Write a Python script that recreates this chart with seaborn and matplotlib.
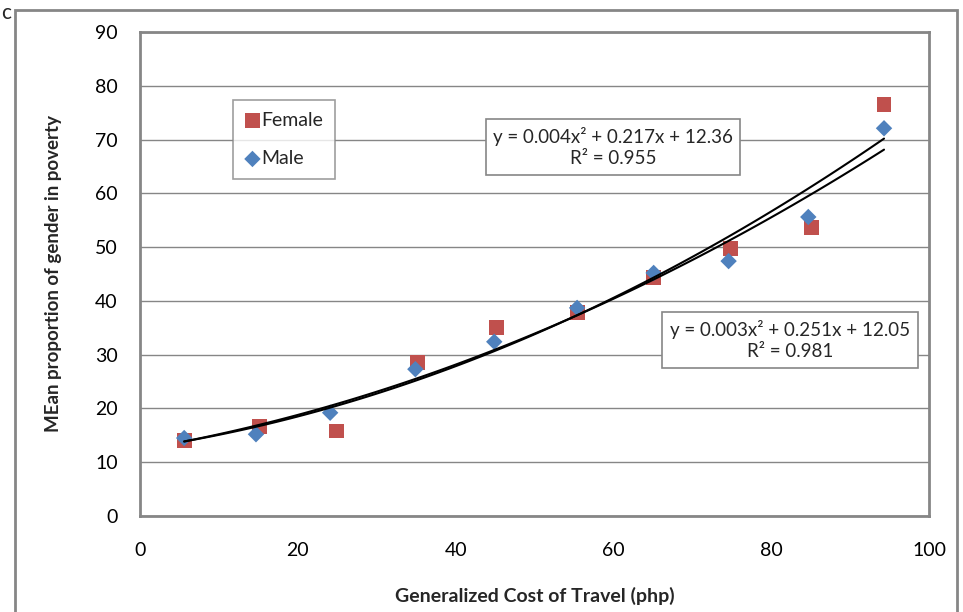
import numpy as np
import pandas as pd
import matplotlib
matplotlib.use("Agg")
import matplotlib.pyplot as plt
from matplotlib.patches import Rectangle
import seaborn as sns

# ---- data ----
female_x = [5.6, 15.2, 24.9, 35.2, 45.2, 55.4, 65.1, 74.8, 85.1, 94.3]
female_y = [14.1, 16.7, 15.8, 28.6, 35.1, 37.9, 44.3, 49.8, 53.6, 76.6]
male_x = [5.6, 14.7, 24.1, 34.9, 44.9, 55.4, 65.1, 74.6, 84.7, 94.3]
male_y = [14.5, 15.2, 19.2, 27.3, 32.4, 38.7, 45.2, 47.4, 55.6, 72.1]
eq_female = "y = 0.004x\u00b2 + 0.217x + 12.36\nR\u00b2 = 0.955"
eq_male = "y = 0.003x\u00b2 + 0.251x + 12.05\nR\u00b2 = 0.981"
x_ticks = [0, 20, 40, 60, 80, 100]
y_ticks = [0, 10, 20, 30, 40, 50, 60, 70, 80, 90]

FEMALE_C = "#C0504D"
MALE_C = "#4F81BD"
GRID_C = "#868686"

sns.set_theme(style="white")
plt.rcParams["font.family"] = ["Lato", "DejaVu Sans"]

fig = plt.figure(figsize=(9.63, 6.12), dpi=100)
W, H = 963, 612
left, right, top, bottom = 140, 929, 32, 516
ax = fig.add_axes([left / W, 1 - bottom / H, (right - left) / W, (bottom - top) / H])

fdf = pd.DataFrame({"x": female_x, "y": female_y})
mdf = pd.DataFrame({"x": male_x, "y": male_y})

sns.scatterplot(data=fdf, x="x", y="y", ax=ax, marker="s", s=115, color=FEMALE_C,
                edgecolor="none", label="Female", zorder=3)
sns.scatterplot(data=mdf, x="x", y="y", ax=ax, marker="D", s=70, color=MALE_C,
                edgecolor="none", label="Male", zorder=4)

sns.regplot(data=fdf, x="x", y="y", ax=ax, order=2, ci=None, scatter=False,
            line_kws=dict(color="black", lw=1.5, zorder=5))
sns.regplot(data=mdf, x="x", y="y", ax=ax, order=2, ci=None, scatter=False,
            line_kws=dict(color="black", lw=1.5, zorder=5))

ax.set_xlim(0, 100)
ax.set_ylim(0, 90)
ax.set_xticks(x_ticks)
ax.set_yticks(y_ticks)
ax.tick_params(axis="both", length=0, labelsize=14, colors="black")
ax.tick_params(axis="x", pad=19)
ax.tick_params(axis="y", pad=16)
ax.yaxis.grid(True, color=GRID_C, lw=1)
ax.xaxis.grid(False)
ax.set_axisbelow(True)
for sp in ax.spines.values():
    sp.set_color(GRID_C)
    sp.set_linewidth(2)

ax.set_xlabel("Generalized Cost of Travel (php)", fontsize=14, fontweight="bold", labelpad=20)
ax.set_ylabel("MEan proportion of gender in poverty", fontsize=13.5, fontweight="bold", labelpad=24)

leg = ax.legend(loc="upper left", bbox_to_anchor=((233 - left) / (right - left), (bottom - 100) / (bottom - top)),
                frameon=True, fancybox=False, edgecolor=GRID_C, fontsize=14,
                handletextpad=0.05, labelspacing=1.1, borderpad=0.6, handlelength=0.8,
                borderaxespad=0)
leg.get_frame().set_linewidth(1.2)
leg._legend_box.sep = 0

box = dict(boxstyle="square,pad=0.4", facecolor="white", edgecolor=GRID_C, lw=1.2)
ax.text((613 - left) / (right - left), (bottom - 147) / (bottom - top), eq_female,
        transform=ax.transAxes, ha="center", va="center", fontsize=13.5, bbox=box,
        linespacing=1.3, zorder=6)
ax.text((790 - left) / (right - left), (bottom - 340) / (bottom - top), eq_male,
        transform=ax.transAxes, ha="center", va="center", fontsize=13.5, bbox=box,
        linespacing=1.3, zorder=6)

fig.patches.append(Rectangle((15 / W, -0.05), (957 - 15) / W, 1 - 10 / H + 0.05,
                             transform=fig.transFigure, fill=False, edgecolor=GRID_C, lw=2))
fig.text(1 / W, 1 - 13 / H, "c", fontsize=15, va="center", ha="left")

fig.savefig("out.png", dpi=100)
